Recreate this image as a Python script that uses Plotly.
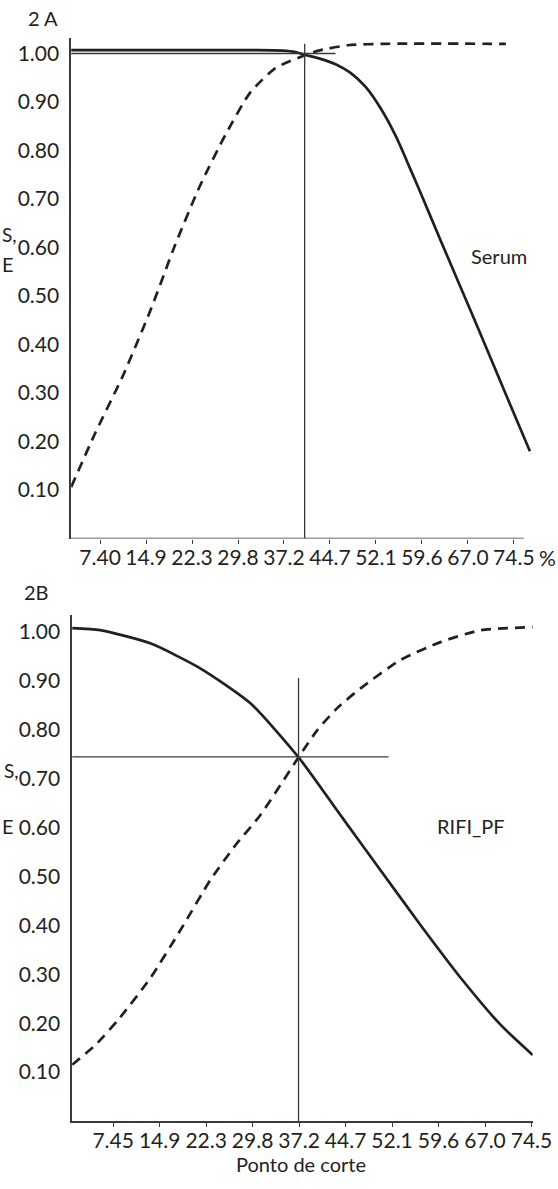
import plotly.graph_objects as go

# ---------------- data ----------------
# Panel 2A (Serum)
serum_sens_x = [2.76, 31.81, 37.01, 39.12, 40.74, 43.17, 45.61, 48.04, 50.48, 52.91, 55.35, 57.78, 59.41, 62.65, 65.57, 68.82, 73.04, 77.10]
serum_sens_y = [1.007, 1.007, 1.006, 1.003, 0.997, 0.989, 0.978, 0.960, 0.931, 0.887, 0.830, 0.760, 0.712, 0.614, 0.527, 0.430, 0.302, 0.180]
serum_spec_x = [2.76, 6.65, 11.2, 15.6, 19.6, 23.7, 27.75, 31.8, 35.9, 40.74, 43.2, 47.6, 53.4, 73.2]
serum_spec_y = [0.106, 0.217, 0.337, 0.47, 0.605, 0.729, 0.832, 0.92, 0.97, 0.997, 1.007, 1.017, 1.02, 1.02]
serum_cut_x = 40.6
serum_cut_y = 1.00

# Panel 2B (RIFI_PF)
rifi_sens_x = [0.87, 5.36, 13.4, 21.4, 29.4, 37.16, 44.2, 50.3, 56.7, 63.2, 69.6, 74.7]
rifi_sens_y = [1.008, 1.004, 0.977, 0.926, 0.855, 0.744, 0.62, 0.513, 0.401, 0.292, 0.196, 0.135]
rifi_spec_x = [0.87, 4.56, 8.25, 13.39, 18.21, 23.03, 27.04, 31.05, 37.16, 40.2, 43.4, 47.1, 53.5, 60.0, 66.4, 74.7]
rifi_spec_y = [0.115, 0.155, 0.207, 0.292, 0.39, 0.493, 0.564, 0.626, 0.744, 0.80, 0.845, 0.885, 0.943, 0.98, 1.004, 1.01]
rifi_cut_x = 37.16
rifi_cut_y = 0.745

# ticks
x_tickvals = [7.45, 14.9, 22.35, 29.8, 37.25, 44.7, 52.15, 59.6, 67.05, 74.5]
x_ticktext_a = ["7.40", "14.9", "22.3", "29.8", "37.2", "44.7", "52.1", "59.6", "67.0", "74.5"]
x_ticktext_b = ["7.45", "14.9", "22.3", "29.8", "37.2", "44.7", "52.1", "59.6", "67.0", "74.5"]
y_tickvals = [0.1, 0.2, 0.3, 0.4, 0.5, 0.6, 0.7, 0.8, 0.9, 1.0]
y_ticktext = ["0.10", "0.20", "0.30", "0.40", "0.50", "0.60", "0.70", "0.80", "0.90", "1.00"]

# ---------------- figure ----------------
W, H = 578, 1189          # layout width (page is photographed into 558 px)
REF_W = 558
INK = "#231f20"
AXC = "#3a3a3a"
FONT = "Lato"
FS = 21

def fx(px):
    """reference horizontal pixel -> paper fraction"""
    return px / REF_W

fig = go.Figure()

solid = dict(color=INK, width=2.7)
dashed = dict(color=INK, width=2.7, dash="10px,7px")
thin = dict(color="#3a3a3a", width=1.3)

# Panel A
fig.add_trace(go.Scatter(x=serum_sens_x, y=serum_sens_y, mode="lines", line=dict(shape="spline", smoothing=0.8, **solid), xaxis="x", yaxis="y"))
fig.add_trace(go.Scatter(x=serum_spec_x, y=serum_spec_y, mode="lines", line=dict(shape="spline", smoothing=0.6, **dashed), xaxis="x", yaxis="y"))
fig.add_trace(go.Scatter(x=[serum_cut_x, serum_cut_x], y=[0, 1.02], mode="lines", line=thin, xaxis="x", yaxis="y"))
fig.add_trace(go.Scatter(x=[2.76, 45.6], y=[serum_cut_y, serum_cut_y], mode="lines", line=thin, xaxis="x", yaxis="y"))
fig.add_trace(go.Scatter(x=[2.76, 76.1], y=[0, 0], mode="lines", line=dict(color=AXC, width=1.6), xaxis="x", yaxis="y"))

# Panel B
fig.add_trace(go.Scatter(x=rifi_sens_x, y=rifi_sens_y, mode="lines", line=dict(shape="spline", smoothing=0.6, **solid), xaxis="x2", yaxis="y2"))
fig.add_trace(go.Scatter(x=rifi_spec_x, y=rifi_spec_y, mode="lines", line=dict(shape="spline", smoothing=0.6, **dashed), xaxis="x2", yaxis="y2"))
fig.add_trace(go.Scatter(x=[rifi_cut_x, rifi_cut_x], y=[0, 0.906], mode="lines", line=thin, xaxis="x2", yaxis="y2"))
fig.add_trace(go.Scatter(x=[0.87, 51.6], y=[rifi_cut_y, rifi_cut_y], mode="lines", line=thin, xaxis="x2", yaxis="y2"))

axis_font = dict(family=FONT, size=FS, color=INK)

fig.update_layout(
    width=W, height=H, autosize=False,
    margin=dict(l=0, r=0, t=0, b=0),
    paper_bgcolor="white", plot_bgcolor="white",
    showlegend=False,
    font=axis_font,
    xaxis=dict(domain=[fx(71), fx(530.2)], range=[2.76, 77.3], anchor="y",
               tickvals=x_tickvals, ticktext=x_ticktext_a, ticks="outside", ticklen=4,
               tickcolor=AXC, tickwidth=1.3, showline=False, showgrid=False, zeroline=False,
               tickfont=axis_font, ticklabelstandoff=-4),
    yaxis=dict(domain=[1 - 538.5 / H, 1 - 38 / H], range=[0, 1.032], anchor="x",
               tickvals=y_tickvals, ticktext=y_ticktext, ticks="", showline=True,
               linecolor=AXC, linewidth=1.6, showgrid=False, zeroline=False,
               tickfont=axis_font, ticklabelstandoff=6),
    xaxis2=dict(domain=[fx(72), fx(531.8)], range=[0.87, 74.7], anchor="y2",
                tickvals=x_tickvals, ticktext=x_ticktext_b, ticks="outside", ticklen=4,
                tickcolor=AXC, tickwidth=1.3, showline=True, linecolor=AXC, linewidth=1.6,
                showgrid=False, zeroline=False, tickfont=axis_font, ticklabelstandoff=-4),
    yaxis2=dict(domain=[1 - 1121 / H, 1 - 615 / H], range=[0, 1.035], anchor="x2",
                tickvals=y_tickvals, ticktext=y_ticktext, ticks="", showline=True,
                linecolor=AXC, linewidth=1.6, showgrid=False, zeroline=False,
                tickfont=axis_font, ticklabelstandoff=6),
)

def ann(text, x, y, size=FS, xanchor="center"):
    fig.add_annotation(text=text, x=fx(x), y=1 - y / H, xref="paper", yref="paper",
                       showarrow=False, font=dict(family=FONT, size=size, color=INK),
                       xanchor=xanchor, yanchor="middle")

ann("2 A", 43, 18, 20)
ann("2B", 36, 592, 20)
ann("%", 547, 557)
ann("S,", 9, 234, 19)
ann("E", 8, 264, 20)
ann("S,", 11, 770, 19)
ann("E", 8, 826, 20)
ann("Serum", 498, 256, 20)
ann("RIFI_PF", 470, 826, 20)
ann("Ponto de corte", 300, 1164, 20)

fig.write_html(
    "out.html",
    config={"displayModeBar": False, "responsive": False},
    post_script="document.body.style.margin='0';document.body.style.overflow='hidden';",
)
